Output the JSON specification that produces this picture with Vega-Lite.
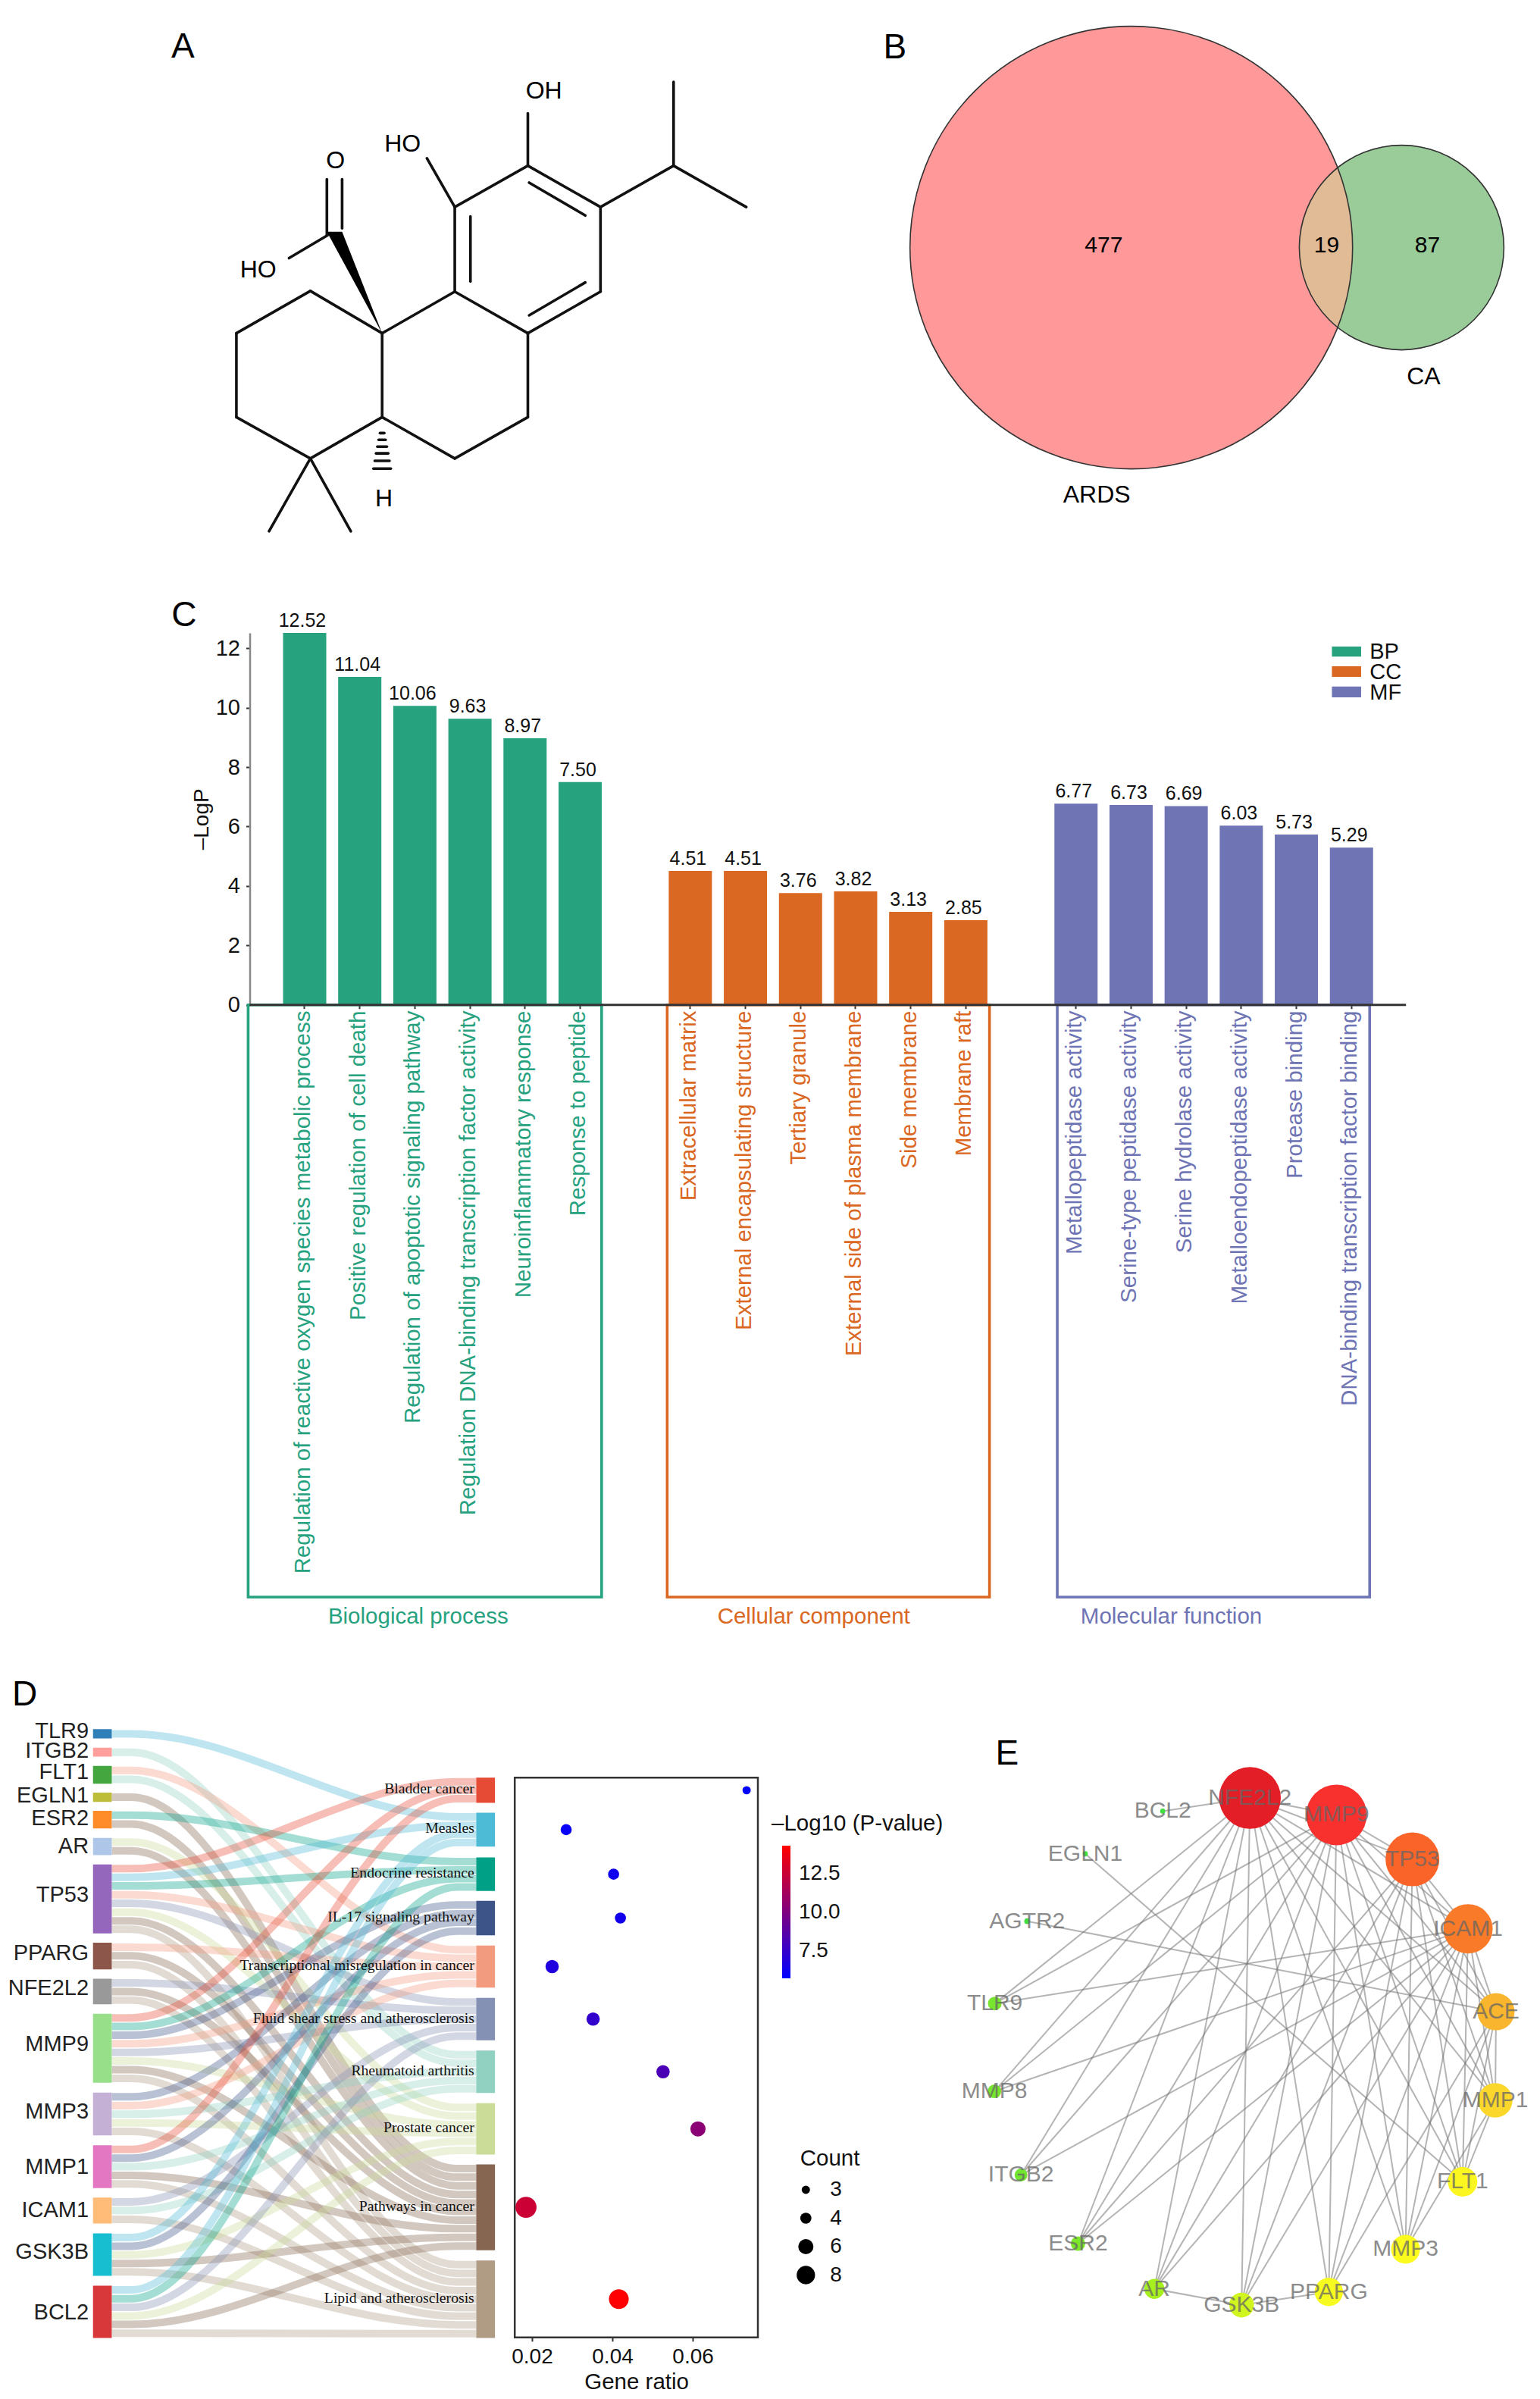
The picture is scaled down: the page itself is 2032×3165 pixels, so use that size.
{
"$schema":"https://vega.github.io/schema/vega-lite/v6.json",
"width":2032,"height":3165,"padding":0,"autosize":{"type":"none"},"background":"white",
"config":{"view":{"stroke":null},"font":"Liberation Sans","axis":{"grid":false,"labelFont":"Liberation Sans","titleFont":"Liberation Sans","titleFontWeight":"normal"},"legend":{"labelFont":"Liberation Sans"}},
"resolve":{"scale":{"x":"independent","y":"independent","color":"independent","size":"independent"},"axis":{"x":"independent","y":"independent"},"legend":{"color":"independent","size":"independent"}},
"datasets":{
"dnodes":[
{"name":"TLR9","side":"gene","y":132,"y2":152,"ly":137,"ym":142},
{"name":"ITGB2","side":"gene","y":172,"y2":191,"ly":178,"ym":181},
{"name":"FLT1","side":"gene","y":211,"y2":249,"ly":224,"ym":230},
{"name":"EGLN1","side":"gene","y":268,"y2":288,"ly":275,"ym":278},
{"name":"ESR2","side":"gene","y":307,"y2":345,"ly":323,"ym":326},
{"name":"AR","side":"gene","y":365,"y2":402,"ly":383,"ym":383},
{"name":"TP53","side":"gene","y":422,"y2":570,"ly":488,"ym":496},
{"name":"PPARG","side":"gene","y":590,"y2":647,"ly":613,"ym":618},
{"name":"NFE2L2","side":"gene","y":667,"y2":722,"ly":687,"ym":694},
{"name":"MMP9","side":"gene","y":742,"y2":890,"ly":808,"ym":816},
{"name":"MMP3","side":"gene","y":911,"y2":1003,"ly":952,"ym":957},
{"name":"MMP1","side":"gene","y":1024,"y2":1116,"ly":1070,"ym":1070},
{"name":"ICAM1","side":"gene","y":1136,"y2":1192,"ly":1163,"ym":1164},
{"name":"GSK3B","side":"gene","y":1213,"y2":1304,"ly":1252,"ym":1258},
{"name":"BCL2","side":"gene","y":1325,"y2":1437,"ly":1382,"ym":1381},
{"name":"Bladder cancer","side":"path","y":236,"y2":290,"ly":260,"ym":263},
{"name":"Measles","side":"path","y":311,"y2":384,"ly":345,"ym":347.5},
{"name":"Endocrine resistance","side":"path","y":407,"y2":479,"ly":440,"ym":443},
{"name":"IL-17 signaling pathway","side":"path","y":500,"y2":574,"ly":535,"ym":537},
{"name":"Transcriptional misregulation in cancer","side":"path","y":596,"y2":686,"ly":638,"ym":641},
{"name":"Fluid shear stress and atherosclerosis","side":"path","y":708,"y2":799,"ly":752,"ym":753.5},
{"name":"Rheumatoid arthritis","side":"path","y":821,"y2":912,"ly":864,"ym":866.5},
{"name":"Prostate cancer","side":"path","y":934,"y2":1044,"ly":987,"ym":989},
{"name":"Pathways in cancer","side":"path","y":1065,"y2":1249,"ly":1155,"ym":1157},
{"name":"Lipid and atherosclerosis","side":"path","y":1271,"y2":1437,"ly":1352,"ym":1354}
],
"enodes":[
{"name":"NFE2L2","x":770,"y":185,"score":81.5},
{"name":"MMP9","x":1008,"y":230,"score":80},
{"name":"TP53","x":1217,"y":348,"score":71},
{"name":"ICAM1","x":1370,"y":532,"score":65},
{"name":"ACE","x":1447,"y":752,"score":49},
{"name":"MMP1","x":1445,"y":987,"score":45.5},
{"name":"FLT1","x":1355,"y":1203,"score":39},
{"name":"MMP3","x":1198,"y":1382,"score":38},
{"name":"PPARG","x":987,"y":1495,"score":37.4},
{"name":"GSK3B","x":747,"y":1530,"score":32.6},
{"name":"AR","x":507,"y":1487,"score":26.4},
{"name":"ESR2","x":297,"y":1367,"score":19},
{"name":"ITGB2","x":140,"y":1185,"score":16.8},
{"name":"MMP8","x":67,"y":963,"score":18},
{"name":"TLR9","x":68,"y":730,"score":18},
{"name":"AGTR2","x":157,"y":512,"score":7.7},
{"name":"EGLN1","x":317,"y":333,"score":6.7},
{"name":"BCL2","x":530,"y":220,"score":6.7}
]
},
"layer":[
{"encoding":{"x":{"field":"x","type":"quantitative","axis":null,"scale":{"domain":[0,1568],"range":[200,1100],"nice":false,"zero":false}},"y":{"field":"y","type":"quantitative","axis":null,"scale":{"domain":[0,1568],"range":[20,720],"nice":false,"zero":false}}},
"layer":[
{"data":{"values":[
{"x":530,"y":940,"x2":365,"y2":815},{"x":365,"y":815,"x2":195,"y2":940},{"x":195,"y":940,"x2":195,"y2":1188},{"x":195,"y":1188,"x2":365,"y2":1310},{"x":365,"y":1310,"x2":530,"y2":1188},{"x":530,"y":1188,"x2":530,"y2":940},
{"x":530,"y":940,"x2":697,"y2":817},{"x":697,"y":817,"x2":865,"y2":940},{"x":865,"y":940,"x2":865,"y2":1188},{"x":865,"y":1188,"x2":697,"y2":1310},{"x":697,"y":1310,"x2":530,"y2":1188},
{"x":697,"y":817,"x2":697,"y2":567},{"x":697,"y":567,"x2":865,"y2":445},{"x":865,"y":445,"x2":1032,"y2":567},{"x":1032,"y":567,"x2":1032,"y2":817},{"x":1032,"y":817,"x2":865,"y2":940},
{"x":733,"y":595,"x2":733,"y2":787},{"x":868,"y":495,"x2":997,"y2":592},{"x":868,"y":887,"x2":997,"y2":790},
{"x":1032,"y":567,"x2":1200,"y2":445},{"x":1200,"y":445,"x2":1200,"y2":197},{"x":1200,"y":445,"x2":1367,"y2":567},
{"x":865,"y":445,"x2":865,"y2":290},{"x":697,"y":567,"x2":633,"y2":423},
{"x":405,"y":650,"x2":316,"y2":718},{"x":403,"y":650,"x2":403,"y2":485},{"x":438,"y":630,"x2":438,"y2":485},
{"x":365,"y":1310,"x2":270,"y2":1525},{"x":365,"y":1310,"x2":458,"y2":1525},
{"x":525,"y":1235,"x2":535,"y2":1235},{"x":522,"y":1255,"x2":538,"y2":1255},{"x":519,"y":1275,"x2":541,"y2":1275},{"x":516,"y":1295,"x2":544,"y2":1295},{"x":513,"y":1317,"x2":547,"y2":1317},{"x":510,"y":1340,"x2":550,"y2":1340}
]},"mark":{"type":"rule","stroke":"#111","strokeWidth":3.6,"strokeCap":"round"},"encoding":{"x2":{"field":"x2"},"y2":{"field":"y2"}}},
{"data":{"values":[{"y":940,"x":530,"x2":530},{"y":640,"x":403,"x2":438}]},"mark":{"type":"area","orient":"horizontal","color":"#000"},"encoding":{"x2":{"field":"x2"}}},
{"data":{"values":[{"x":902,"y":225,"t":"OH"},{"x":577,"y":380,"t":"HO"},{"x":423,"y":430,"t":"O"},{"x":245,"y":753,"t":"HO"},{"x":534,"y":1430,"t":"H"}]},"mark":{"type":"text","fontSize":32,"color":"#000","baseline":"middle"},"encoding":{"text":{"field":"t"}}},
{"data":{"values":[{"x":72,"y":95,"t":"A"}]},"mark":{"type":"text","fontSize":46,"color":"#000","baseline":"middle"},"encoding":{"text":{"field":"t"}}}
]},
{"encoding":{"x":{"field":"x","type":"quantitative","axis":null,"scale":{"domain":[0,1568],"range":[1140,2032],"nice":false,"zero":false}},"y":{"field":"y","type":"quantitative","axis":null,"scale":{"domain":[0,1568],"range":[20,700],"nice":false,"zero":false}}},
"layer":[
{"data":{"values":[{"set":"ARDS","total":496,"x":620,"y":707},{"set":"CA","total":106,"x":1247,"y":707}]},"mark":{"type":"circle","opacity":1},
"encoding":{"size":{"field":"total","type":"quantitative","legend":null,"scale":{"domain":[0,496],"range":[0,341056]}},"color":{"field":"set","type":"nominal","legend":null,"scale":{"domain":["ARDS","CA"],"range":["#FE9899","#99CC99"]}}}},
{"data":{"values":[{"y":463,"x":1098.8,"x2":1099.1},{"y":488,"x":1077.8,"x2":1106},{"y":534,"x":1049.2,"x2":1116.7},{"y":592,"x":1026.1,"x2":1126.3},{"y":649,"x":1013.3,"x2":1132},{"y":707,"x":1009.3,"x2":1133.9},{"y":765,"x":1013.3,"x2":1132},{"y":822,"x":1026.1,"x2":1126.3},{"y":880,"x":1049.2,"x2":1116.7},{"y":926,"x":1077.8,"x2":1106},{"y":951,"x":1098.8,"x2":1099.1}]},"mark":{"type":"area","orient":"horizontal","interpolate":"monotone","color":"#E0BB96"},"encoding":{"x2":{"field":"x2"}}},
{"data":{"values":[{"set":"ARDS","total":496,"x":620,"y":707},{"set":"CA","total":106,"x":1247,"y":707}]},"mark":{"type":"circle","opacity":1,"fillOpacity":0,"stroke":"#333","strokeWidth":1.6},
"encoding":{"size":{"field":"total","type":"quantitative","legend":null,"scale":{"domain":[0,496],"range":[0,341056]}}}},
{"data":{"values":[{"x":556,"y":702,"t":"477"},{"x":1073,"y":702,"t":"19"},{"x":1307,"y":702,"t":"87"}]},"mark":{"type":"text","fontSize":30,"color":"#000","baseline":"middle"},"encoding":{"text":{"field":"t"}}},
{"data":{"values":[{"x":540,"y":1460,"t":"ARDS"},{"x":1298,"y":1100,"t":"CA"}]},"mark":{"type":"text","fontSize":32,"color":"#000","baseline":"middle"},"encoding":{"text":{"field":"t"}}},
{"data":{"values":[{"x":72,"y":99,"t":"B"}]},"mark":{"type":"text","fontSize":46,"color":"#000","baseline":"middle"},"encoding":{"text":{"field":"t"}}}
]},
{"data":{"values":[
{"cat":"BP","term":"Regulation of reactive oxygen species metabolic process","logp":12.52},
{"cat":"BP","term":"Positive regulation of cell death","logp":11.04},
{"cat":"BP","term":"Regulation of apoptotic signaling pathway","logp":10.06},
{"cat":"BP","term":"Regulation DNA-binding transcription factor activity","logp":9.63},
{"cat":"BP","term":"Neuroinflammatory response","logp":8.97},
{"cat":"BP","term":"Response to peptide","logp":7.50},
{"cat":"CC","term":"Extracellular matrix","logp":4.51},
{"cat":"CC","term":"External encapsulating structure","logp":4.51},
{"cat":"CC","term":"Tertiary granule","logp":3.76},
{"cat":"CC","term":"External side of plasma membrane","logp":3.82},
{"cat":"CC","term":"Side membrane","logp":3.13},
{"cat":"CC","term":"Membrane raft","logp":2.85},
{"cat":"MF","term":"Metallopeptidase activity","logp":6.77},
{"cat":"MF","term":"Serine-type peptidase activity","logp":6.73},
{"cat":"MF","term":"Serine hydrolase activity","logp":6.69},
{"cat":"MF","term":"Metalloendopeptidase activity","logp":6.03},
{"cat":"MF","term":"Protease binding","logp":5.73},
{"cat":"MF","term":"DNA-binding transcription factor binding","logp":5.29}
]},
"encoding":{"x":{"field":"term","type":"nominal","scale":{"domain":["Regulation of reactive oxygen species metabolic process","Positive regulation of cell death","Regulation of apoptotic signaling pathway","Regulation DNA-binding transcription factor activity","Neuroinflammatory response","Response to peptide"," ","Extracellular matrix","External encapsulating structure","Tertiary granule","External side of plasma membrane","Side membrane","Membrane raft","  ","Metallopeptidase activity","Serine-type peptidase activity","Serine hydrolase activity","Metalloendopeptidase activity","Protease binding","DNA-binding transcription factor binding"],"range":[365.65,1819.6],"paddingInner":0.216,"paddingOuter":0.108},
"axis":{"orient":"bottom","offset":-1839.3,"title":null,"labels":false,"domain":false,"tickSize":5,"tickColor":"#333","tickWidth":2,"values":["Regulation of reactive oxygen species metabolic process","Positive regulation of cell death","Regulation of apoptotic signaling pathway","Regulation DNA-binding transcription factor activity","Neuroinflammatory response","Response to peptide","Extracellular matrix","External encapsulating structure","Tertiary granule","External side of plasma membrane","Side membrane","Membrane raft","Metallopeptidase activity","Serine-type peptidase activity","Serine hydrolase activity","Metalloendopeptidase activity","Protease binding","DNA-binding transcription factor binding"]}},
"y":{"field":"logp","type":"quantitative","stack":null,"title":"–LogP","scale":{"domain":[0,12.52],"range":[1325.7,834.9],"nice":false,"zero":false},"axis":{"orient":"left","offset":-329.5,"values":[0,2,4,6,8,10,12],"title":"–LogP","titleFontSize":28,"titlePadding":4,"labelFontSize":29,"labelPadding":8,"tickSize":5,"tickColor":"#333","tickWidth":2,"domainColor":"#888","domainWidth":2.5,"labelColor":"#111","titleColor":"#111"}}},
"layer":[
{"mark":{"type":"bar"},"encoding":{
"color":{"field":"cat","type":"nominal","legend":null,"scale":{"domain":["BP","CC","MF"],"range":["#27A27F","#DA6722","#6E74B4"]}}}},
{"mark":{"type":"text","fontSize":25,"baseline":"bottom","dy":-3,"dx":-3,"color":"#111"},"encoding":{"text":{"field":"logp","type":"quantitative","format":".2f"}}}
]},
{"data":{"values":[
{"cat":"BP","term":"Regulation of reactive oxygen species metabolic process"},
{"cat":"BP","term":"Positive regulation of cell death"},
{"cat":"BP","term":"Regulation of apoptotic signaling pathway"},
{"cat":"BP","term":"Regulation DNA-binding transcription factor activity"},
{"cat":"BP","term":"Neuroinflammatory response"},
{"cat":"BP","term":"Response to peptide"},
{"cat":"CC","term":"Extracellular matrix"},
{"cat":"CC","term":"External encapsulating structure"},
{"cat":"CC","term":"Tertiary granule"},
{"cat":"CC","term":"External side of plasma membrane"},
{"cat":"CC","term":"Side membrane"},
{"cat":"CC","term":"Membrane raft"},
{"cat":"MF","term":"Metallopeptidase activity"},
{"cat":"MF","term":"Serine-type peptidase activity"},
{"cat":"MF","term":"Serine hydrolase activity"},
{"cat":"MF","term":"Metalloendopeptidase activity"},
{"cat":"MF","term":"Protease binding"},
{"cat":"MF","term":"DNA-binding transcription factor binding"}
]},
"mark":{"type":"text","fontSize":29.5,"angle":270,"align":"right","baseline":"alphabetic","dy":7},
"encoding":{"x":{"field":"term","type":"nominal","axis":null,"scale":{"domain":["Regulation of reactive oxygen species metabolic process","Positive regulation of cell death","Regulation of apoptotic signaling pathway","Regulation DNA-binding transcription factor activity","Neuroinflammatory response","Response to peptide"," ","Extracellular matrix","External encapsulating structure","Tertiary granule","External side of plasma membrane","Side membrane","Membrane raft","  ","Metallopeptidase activity","Serine-type peptidase activity","Serine hydrolase activity","Metalloendopeptidase activity","Protease binding","DNA-binding transcription factor binding"],"range":[365.65,1819.6],"paddingInner":0.216,"paddingOuter":0.108}},"y":{"datum":-0.2,"type":"quantitative","axis":null,"scale":{"domain":[0,12.52],"range":[1325.7,834.9],"nice":false,"zero":false}},"text":{"field":"term"},"color":{"field":"cat","type":"nominal","legend":null,"scale":{"domain":["BP","CC","MF"],"range":["#27A27F","#DA6722","#6E74B4"]}}}},
{"encoding":{"x":{"field":"x","type":"quantitative","axis":null,"scale":{"domain":[-0.5,19.5],"range":[365.65,1819.6],"nice":false,"zero":false}},"y":{"field":"y","type":"quantitative","axis":null,"scale":{"domain":[0,12.52],"range":[1325.7,834.9],"nice":false,"zero":false}}},
"layer":[
{"data":{"values":[{"cat":"BP","x":-1.026,"x2":5.39,"y":-19.93,"y2":0},{"cat":"CC","x":6.58,"x2":12.43,"y":-19.93,"y2":0},{"cat":"MF","x":13.66,"x2":19.33,"y":-19.93,"y2":0}]},"mark":{"type":"rect","filled":false,"strokeWidth":3.6},"encoding":{"x2":{"field":"x2"},"y2":{"field":"y2"},"color":{"field":"cat","type":"nominal","legend":null,"scale":{"domain":["BP","CC","MF"],"range":["#27A27F","#DA6722","#6E74B4"]}}}},
{"data":{"values":[{"cat":"BP","x":18.645,"x2":19.175,"y":12.06,"y2":11.72},{"cat":"CC","x":18.645,"x2":19.175,"y":11.395,"y2":11.04},{"cat":"MF","x":18.645,"x2":19.175,"y":10.71,"y2":10.35}]},"mark":{"type":"rect"},"encoding":{"x2":{"field":"x2"},"y2":{"field":"y2"},"color":{"field":"cat","type":"nominal","legend":null}}},
{"data":{"values":[{"cat":"BP","x":19.33,"y":11.87},{"cat":"CC","x":19.33,"y":11.2},{"cat":"MF","x":19.33,"y":10.51}]},"mark":{"type":"text","fontSize":29,"align":"left","baseline":"middle","color":"#111"},"encoding":{"text":{"field":"cat"}}},
{"data":{"values":[{"x":-1,"x2":19.99,"y":0}]},"mark":{"type":"rule","stroke":"#333","strokeWidth":3},"encoding":{"x2":{"field":"x2"}}},
{"data":{"values":[{"cat":"BP","t":"Biological process","x":2.06,"y":-20.6},{"cat":"CC","t":"Cellular component","x":9.24,"y":-20.6},{"cat":"MF","t":"Molecular function","x":15.73,"y":-20.6}]},"mark":{"type":"text","fontSize":29.5,"baseline":"middle"},"encoding":{"text":{"field":"t"},"color":{"field":"cat","type":"nominal","legend":null}}},
{"data":{"values":[{"t":"C","x":-2.19,"y":13.1}]},"mark":{"type":"text","fontSize":46,"color":"#000","baseline":"middle"},"encoding":{"text":{"field":"t"}}}
]},
{"encoding":{"y":{"field":"y","type":"quantitative","axis":null,"scale":{"domain":[0,1568],"range":[2200,3165],"nice":false,"zero":false}}},
"layer":[
{"data":{"values":[
{"g":"TLR9","p":"Measles","0340":142,"0400":142,"1390":320,"1449":320},
{"g":"ITGB2","p":"Rheumatoid arthritis","0340":181.5,"0400":181.5,"1390":830,"1449":830},
{"g":"FLT1","p":"Transcriptional misregulation in cancer","0340":220.5,"0400":220.5,"1390":605,"1449":605},
{"g":"FLT1","p":"Rheumatoid arthritis","0340":239.5,"0400":239.5,"1390":848,"1449":848},
{"g":"EGLN1","p":"Pathways in cancer","0340":278,"0400":278,"1390":1074,"1449":1074},
{"g":"ESR2","p":"Endocrine resistance","0340":316.5,"0400":316.5,"1390":416,"1449":416},
{"g":"ESR2","p":"Pathways in cancer","0340":335.5,"0400":335.5,"1390":1092.5,"1449":1092.5},
{"g":"AR","p":"Prostate cancer","0340":374,"0400":374,"1390":943,"1449":943},
{"g":"AR","p":"Pathways in cancer","0340":393,"0400":393,"1390":1111,"1449":1111},
{"g":"TP53","p":"Bladder cancer","0340":431,"0400":431,"1390":245,"1449":245},
{"g":"TP53","p":"Measles","0340":449.5,"0400":449.5,"1390":338.5,"1449":338.5},
{"g":"TP53","p":"Endocrine resistance","0340":468,"0400":468,"1390":434,"1449":434},
{"g":"TP53","p":"Transcriptional misregulation in cancer","0340":487,"0400":487,"1390":623,"1449":623},
{"g":"TP53","p":"Fluid shear stress and atherosclerosis","0340":505.5,"0400":505.5,"1390":717,"1449":717},
{"g":"TP53","p":"Prostate cancer","0340":524.5,"0400":524.5,"1390":961.5,"1449":961.5},
{"g":"TP53","p":"Pathways in cancer","0340":543,"0400":543,"1390":1129.5,"1449":1129.5},
{"g":"TP53","p":"Lipid and atherosclerosis","0340":561,"0400":561,"1390":1280,"1449":1280},
{"g":"PPARG","p":"Transcriptional misregulation in cancer","0340":599.5,"0400":599.5,"1390":641,"1449":641},
{"g":"PPARG","p":"Pathways in cancer","0340":618,"0400":618,"1390":1148,"1449":1148},
{"g":"PPARG","p":"Lipid and atherosclerosis","0340":637,"0400":637,"1390":1298.5,"1449":1298.5},
{"g":"NFE2L2","p":"Fluid shear stress and atherosclerosis","0340":676,"0400":676,"1390":735,"1449":735},
{"g":"NFE2L2","p":"Pathways in cancer","0340":694.5,"0400":694.5,"1390":1166,"1449":1166},
{"g":"NFE2L2","p":"Lipid and atherosclerosis","0340":713,"0400":713,"1390":1317,"1449":1317},
{"g":"MMP9","p":"Bladder cancer","0340":751,"0400":751,"1390":263,"1449":263},
{"g":"MMP9","p":"Endocrine resistance","0340":769.5,"0400":769.5,"1390":452.5,"1449":452.5},
{"g":"MMP9","p":"IL-17 signaling pathway","0340":788,"0400":788,"1390":509,"1449":509},
{"g":"MMP9","p":"Transcriptional misregulation in cancer","0340":806.5,"0400":806.5,"1390":659,"1449":659},
{"g":"MMP9","p":"Fluid shear stress and atherosclerosis","0340":825,"0400":825,"1390":753.5,"1449":753.5},
{"g":"MMP9","p":"Prostate cancer","0340":843.5,"0400":843.5,"1390":980,"1449":980},
{"g":"MMP9","p":"Pathways in cancer","0340":862,"0400":862,"1390":1184.5,"1449":1184.5},
{"g":"MMP9","p":"Lipid and atherosclerosis","0340":880.5,"0400":880.5,"1390":1335.5,"1449":1335.5},
{"g":"MMP3","p":"IL-17 signaling pathway","0340":920,"0400":920,"1390":528,"1449":528},
{"g":"MMP3","p":"Transcriptional misregulation in cancer","0340":939,"0400":939,"1390":677,"1449":677},
{"g":"MMP3","p":"Rheumatoid arthritis","0340":957.5,"0400":957.5,"1390":866.5,"1449":866.5},
{"g":"MMP3","p":"Prostate cancer","0340":976,"0400":976,"1390":998,"1449":998},
{"g":"MMP3","p":"Lipid and atherosclerosis","0340":994.5,"0400":994.5,"1390":1354,"1449":1354},
{"g":"MMP1","p":"Bladder cancer","0340":1033,"0400":1033,"1390":281,"1449":281},
{"g":"MMP1","p":"IL-17 signaling pathway","0340":1051.5,"0400":1051.5,"1390":546,"1449":546},
{"g":"MMP1","p":"Rheumatoid arthritis","0340":1070,"0400":1070,"1390":885,"1449":885},
{"g":"MMP1","p":"Pathways in cancer","0340":1088.5,"0400":1088.5,"1390":1203,"1449":1203},
{"g":"MMP1","p":"Lipid and atherosclerosis","0340":1107,"0400":1107,"1390":1372,"1449":1372},
{"g":"ICAM1","p":"Fluid shear stress and atherosclerosis","0340":1145.5,"0400":1145.5,"1390":772,"1449":772},
{"g":"ICAM1","p":"Rheumatoid arthritis","0340":1164,"0400":1164,"1390":903,"1449":903},
{"g":"ICAM1","p":"Lipid and atherosclerosis","0340":1183,"0400":1183,"1390":1390.5,"1449":1390.5},
{"g":"GSK3B","p":"Measles","0340":1222,"0400":1222,"1390":357,"1449":357},
{"g":"GSK3B","p":"IL-17 signaling pathway","0340":1240.5,"0400":1240.5,"1390":565,"1449":565},
{"g":"GSK3B","p":"Prostate cancer","0340":1259,"0400":1259,"1390":1016,"1449":1016},
{"g":"GSK3B","p":"Pathways in cancer","0340":1277.5,"0400":1277.5,"1390":1221.5,"1449":1221.5},
{"g":"GSK3B","p":"Lipid and atherosclerosis","0340":1295.5,"0400":1295.5,"1390":1409,"1449":1409},
{"g":"BCL2","p":"Measles","0340":1334,"0400":1334,"1390":375,"1449":375},
{"g":"BCL2","p":"Endocrine resistance","0340":1353,"0400":1353,"1390":470.5,"1449":470.5},
{"g":"BCL2","p":"Fluid shear stress and atherosclerosis","0340":1371.5,"0400":1371.5,"1390":790,"1449":790},
{"g":"BCL2","p":"Prostate cancer","0340":1390,"0400":1390,"1390":1035,"1449":1035},
{"g":"BCL2","p":"Pathways in cancer","0340":1408,"0400":1408,"1390":1240,"1449":1240},
{"g":"BCL2","p":"Lipid and atherosclerosis","0340":1427,"0400":1427,"1390":1428,"1449":1428}
]},
"transform":[{"fold":["0340","0400","1390","1449"],"as":["stop","pos"]}],
"mark":{"type":"line","interpolate":"monotone","strokeWidth":10,"opacity":0.36,"strokeCap":"butt"},
"encoding":{"x":{"field":"stop","type":"quantitative","axis":null,"scale":{"domain":[0,1568],"range":[0,680],"nice":false,"zero":false}},"y":{"field":"pos","type":"quantitative"},"detail":{"field":"g"},
"color":{"field":"p","type":"nominal","legend":null,"scale":{"domain":["TLR9","ITGB2","FLT1","EGLN1","ESR2","AR","TP53","PPARG","NFE2L2","MMP9","MMP3","MMP1","ICAM1","GSK3B","BCL2","Bladder cancer","Measles","Endocrine resistance","IL-17 signaling pathway","Transcriptional misregulation in cancer","Fluid shear stress and atherosclerosis","Rheumatoid arthritis","Prostate cancer","Pathways in cancer","Lipid and atherosclerosis"],"range":["#2F7FB8","#FF9E9A","#43A63F","#BDBD3A","#FF8C28","#AEC7E8","#9467BD","#8C564B","#999999","#98DF8A","#C5B0D5","#E377C2","#FFBB78","#17BECF","#D8383A","#E64B35","#4DBBD5","#00A087","#3C5488","#F39B7F","#8491B4","#91D1C2","#CBDC98","#866650","#B09C85"]}}}},
{"data":{"name":"dnodes"},"transform":[{"filter":"datum.side==='gene'"}],"mark":{"type":"rect"},"encoding":{"x":{"datum":283,"type":"quantitative"},"x2":{"datum":340},"y2":{"field":"y2"},"color":{"field":"name","type":"nominal","legend":null}}},
{"data":{"name":"dnodes"},"transform":[{"filter":"datum.side==='path'"}],"mark":{"type":"rect"},"encoding":{"x":{"datum":1449,"type":"quantitative"},"x2":{"datum":1506},"y2":{"field":"y2"},"color":{"field":"name","type":"nominal","legend":null}}},
{"data":{"name":"dnodes"},"transform":[{"filter":"datum.side==='gene'"}],"mark":{"type":"text","font":"Liberation Sans","fontSize":29,"align":"right","baseline":"middle","color":"#222"},"encoding":{"x":{"datum":270,"type":"quantitative"},"y":{"field":"ly","type":"quantitative"},"text":{"field":"name"}}},
{"data":{"name":"dnodes"},"transform":[{"filter":"datum.side==='path'"}],"mark":{"type":"text","font":"Liberation Serif","fontSize":19.7,"align":"right","baseline":"middle","color":"#111"},"encoding":{"x":{"datum":1443,"type":"quantitative"},"y":{"field":"ly","type":"quantitative"},"text":{"field":"name"}}},
{"data":{"values":[{"t":"D","y":58}]},"mark":{"type":"text","fontSize":46,"color":"#000","baseline":"middle"},"encoding":{"x":{"datum":75,"type":"quantitative"},"text":{"field":"t"}}}
]},
{"layer":[
{"data":{"values":[{"box":"frame"}]},"mark":{"type":"rect","fill":"white","stroke":"#333","strokeWidth":2.5},"encoding":{"x":{"datum":0.0157,"type":"quantitative","scale":{"domain":[0.0157,0.0762],"range":[679.2,1000],"nice":false,"zero":false},"axis":{"orient":"bottom","offset":-81.2,"values":[0.02,0.04,0.06],"format":".2f","title":"Gene ratio","titleFontSize":29.5,"titlePadding":5,"labelFontSize":28,"labelPadding":7,"tickSize":5,"tickColor":"#333","tickWidth":2,"domain":false,"labelColor":"#111","titleColor":"#111"}},"x2":{"datum":0.0762},"y":{"datum":236,"type":"quantitative","axis":null,"scale":{"domain":[0,1568],"range":[2200,3165],"nice":false,"zero":false}},"y2":{"datum":1436}}},
{"data":{"values":[
{"pathway":"Bladder cancer","ratio":0.0734,"logp":5.7,"count":3},
{"pathway":"Measles","ratio":0.0285,"logp":6.0,"count":4},
{"pathway":"Endocrine resistance","ratio":0.0403,"logp":6.2,"count":4},
{"pathway":"IL-17 signaling pathway","ratio":0.042,"logp":6.3,"count":4},
{"pathway":"Transcriptional misregulation in cancer","ratio":0.025,"logp":6.8,"count":5},
{"pathway":"Fluid shear stress and atherosclerosis","ratio":0.0352,"logp":7.4,"count":5},
{"pathway":"Rheumatoid arthritis","ratio":0.0526,"logp":8.2,"count":5},
{"pathway":"Prostate cancer","ratio":0.0613,"logp":10.4,"count":6},
{"pathway":"Pathways in cancer","ratio":0.0185,"logp":12.6,"count":10},
{"pathway":"Lipid and atherosclerosis","ratio":0.0416,"logp":14.3,"count":9}
]},
"transform":[{"lookup":"pathway","from":{"data":{"name":"dnodes"},"key":"name","fields":["ym"]}}],
"mark":{"type":"circle","opacity":1},
"encoding":{"x":{"field":"ratio","type":"quantitative"},"y":{"field":"ym","type":"quantitative"},
"size":{"field":"count","type":"quantitative","scale":{"domain":[3,10],"range":[120,775],"zero":false},"legend":{"orient":"none","legendX":1049.3,"legendY":2875,"title":null,"values":[3,4,6,8],"symbolFillColor":"#000","symbolStrokeColor":"#000","symbolStrokeWidth":0,"symbolOpacity":1,"labelFontSize":28,"labelColor":"#111","labelOffset":18,"rowPadding":9.5}},
"color":{"field":"logp","type":"quantitative","scale":{"domain":[5.7,14.35],"range":["#0000FF","#FF0000"],"interpolate":"rgb"},"legend":{"orient":"none","legendX":1032,"legendY":2435,"title":null,"gradientLength":175,"gradientThickness":11,"values":[7.5,10,12.5],"format":".1f","labelFontSize":28,"labelColor":"#111","labelOffset":11,"gradientStrokeWidth":0}}}},
{"data":{"values":[{"t":"–Log10 (P-value)","r":0.0796,"v":335},{"t":"Count","r":0.0867,"v":1053}]},"mark":{"type":"text","fontSize":29.5,"align":"left","baseline":"middle","color":"#111"},"encoding":{"x":{"field":"r","type":"quantitative"},"y":{"field":"v","type":"quantitative"},"text":{"field":"t"}}}
]},
{"encoding":{"x":{"field":"x","type":"quantitative","axis":null,"scale":{"domain":[0,1568],"range":[1280,2032],"nice":false,"zero":false}},"y":{"field":"y","type":"quantitative","axis":null,"scale":{"domain":[0,1568],"range":[2280,3060],"nice":false,"zero":false}}},
"layer":[
{"data":{"values":[
{"a":"BCL2","b":"NFE2L2"},{"a":"EGLN1","b":"FLT1"},{"a":"AGTR2","b":"ACE"},
{"a":"TLR9","b":"NFE2L2"},{"a":"TLR9","b":"MMP9"},{"a":"TLR9","b":"ICAM1"},
{"a":"MMP8","b":"NFE2L2"},{"a":"MMP8","b":"MMP9"},{"a":"MMP8","b":"ICAM1"},
{"a":"ITGB2","b":"NFE2L2"},{"a":"ITGB2","b":"MMP9"},{"a":"ITGB2","b":"ICAM1"},
{"a":"ESR2","b":"NFE2L2"},{"a":"ESR2","b":"MMP9"},{"a":"ESR2","b":"TP53"},{"a":"ESR2","b":"ICAM1"},
{"a":"AR","b":"NFE2L2"},{"a":"AR","b":"MMP9"},{"a":"AR","b":"TP53"},{"a":"AR","b":"ICAM1"},{"a":"AR","b":"GSK3B"},
{"a":"GSK3B","b":"NFE2L2"},{"a":"GSK3B","b":"MMP9"},{"a":"GSK3B","b":"TP53"},{"a":"GSK3B","b":"ICAM1"},{"a":"GSK3B","b":"PPARG"},
{"a":"PPARG","b":"NFE2L2"},{"a":"PPARG","b":"MMP9"},{"a":"PPARG","b":"TP53"},{"a":"PPARG","b":"ICAM1"},{"a":"PPARG","b":"ACE"},
{"a":"MMP3","b":"NFE2L2"},{"a":"MMP3","b":"MMP9"},{"a":"MMP3","b":"TP53"},{"a":"MMP3","b":"ICAM1"},{"a":"MMP3","b":"ACE"},{"a":"MMP3","b":"MMP1"},
{"a":"FLT1","b":"NFE2L2"},{"a":"FLT1","b":"MMP9"},{"a":"FLT1","b":"TP53"},{"a":"FLT1","b":"ICAM1"},{"a":"FLT1","b":"ACE"},{"a":"FLT1","b":"MMP1"},
{"a":"MMP1","b":"NFE2L2"},{"a":"MMP1","b":"MMP9"},{"a":"MMP1","b":"TP53"},{"a":"MMP1","b":"ICAM1"},{"a":"MMP1","b":"ACE"},
{"a":"ACE","b":"NFE2L2"},{"a":"ACE","b":"MMP9"},{"a":"ACE","b":"TP53"},{"a":"ACE","b":"ICAM1"},
{"a":"ICAM1","b":"NFE2L2"},{"a":"ICAM1","b":"MMP9"},{"a":"ICAM1","b":"TP53"},
{"a":"TP53","b":"NFE2L2"},{"a":"TP53","b":"MMP9"},{"a":"MMP9","b":"NFE2L2"}
]},
"transform":[{"lookup":"a","from":{"data":{"name":"enodes"},"key":"name","fields":["x","y"]}},{"lookup":"b","from":{"data":{"name":"enodes"},"key":"name","fields":["x","y"]},"as":["x2","y2"]}],
"mark":{"type":"rule","stroke":"#777","strokeWidth":2,"opacity":0.55},"encoding":{"x2":{"field":"x2"},"y2":{"field":"y2"}}},
{"data":{"name":"enodes"},"mark":{"type":"circle","opacity":1},"encoding":{"size":{"field":"score","type":"quantitative","legend":null,"scale":{"type":"pow","exponent":2,"domain":[0,100],"range":[0,10000]}},"color":{"field":"score","type":"quantitative","legend":null,"scale":{"domain":[6.7,18,26.4,32.6,38,45.5,49,65,71,80,81.5],"range":["#3FE040","#78E62E","#A6F01F","#D0F51F","#FBFB1E","#FBD72B","#F8B52D","#F97A28","#FA6428","#F8312F","#E41E26"],"interpolate":"rgb"}}}},
{"data":{"name":"enodes"},"mark":{"type":"text","fontSize":30,"baseline":"middle","color":"#666","opacity":0.75},"encoding":{"text":{"field":"name"}}},
{"data":{"values":[{"t":"E","x":102,"y":68}]},"mark":{"type":"text","fontSize":46,"color":"#000","baseline":"middle"},"encoding":{"text":{"field":"t"}}}
]}
]
}
